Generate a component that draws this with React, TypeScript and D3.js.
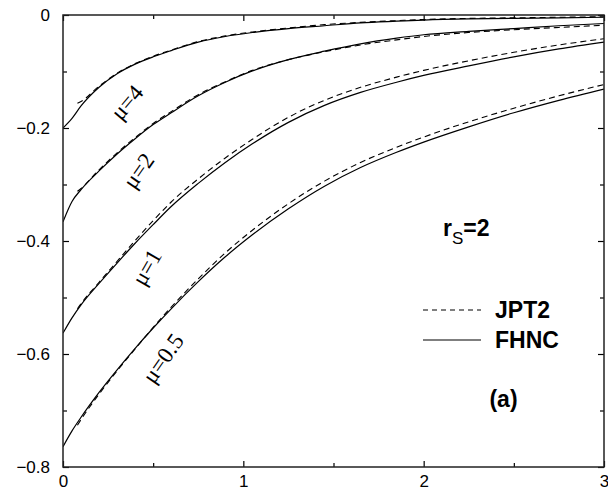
import React, { useRef, useEffect } from 'react';
import * as d3 from 'd3';

// x grid for the FHNC (solid) curves and the JPT2 (dashed) curves
const xSolid = [0, 0.05, 0.1, 0.2, 0.3, 0.4, 0.5, 0.6, 0.75, 0.9, 1.05, 1.25, 1.45, 1.65, 1.85, 2.0, 2.25, 2.5, 2.75, 3.0];
const xDashed = [0.08, 0.1, 0.2, 0.3, 0.4, 0.5, 0.6, 0.75, 0.9, 1.05, 1.25, 1.45, 1.65, 1.85, 2.0, 2.25, 2.5, 2.75, 3.0];

// FHNC
const fhncMu4 = [-0.2, -0.183, -0.161, -0.128, -0.104, -0.087, -0.074, -0.063, -0.048, -0.038, -0.031, -0.024, -0.019, -0.014, -0.011, -0.009, -0.007, -0.006, -0.005, -0.004];
const fhncMu2 = [-0.366, -0.33, -0.309, -0.276, -0.246, -0.219, -0.194, -0.173, -0.143, -0.119, -0.099, -0.079, -0.064, -0.051, -0.041, -0.035, -0.029, -0.024, -0.019, -0.015];
const fhncMu1 = [-0.563, -0.536, -0.513, -0.475, -0.439, -0.404, -0.371, -0.339, -0.298, -0.261, -0.228, -0.19, -0.16, -0.137, -0.119, -0.107, -0.09, -0.074, -0.06, -0.048];
const fhncMu05 = [-0.764, -0.736, -0.712, -0.668, -0.628, -0.59, -0.554, -0.52, -0.472, -0.428, -0.389, -0.343, -0.303, -0.27, -0.243, -0.225, -0.198, -0.173, -0.151, -0.131];

// JPT2
const jptMu4 = [-0.156, -0.153, -0.126, -0.103, -0.086, -0.073, -0.062, -0.047, -0.037, -0.03, -0.023, -0.017, -0.013, -0.01, -0.008, -0.006, -0.005, -0.004, -0.003];
const jptMu2 = [-0.312, -0.307, -0.274, -0.244, -0.217, -0.192, -0.171, -0.141, -0.118, -0.098, -0.079, -0.065, -0.053, -0.044, -0.038, -0.031, -0.026, -0.022, -0.018];
const jptMu1 = [-0.52, -0.511, -0.473, -0.436, -0.399, -0.364, -0.331, -0.29, -0.253, -0.22, -0.181, -0.151, -0.128, -0.11, -0.098, -0.081, -0.066, -0.053, -0.042];
const jptMu05 = [-0.726, -0.716, -0.671, -0.63, -0.591, -0.553, -0.517, -0.467, -0.421, -0.381, -0.334, -0.294, -0.261, -0.234, -0.216, -0.189, -0.165, -0.143, -0.123];

const curveLabels = ['μ=4', 'μ=2', 'μ=1', 'μ=0.5'];
const xTicks = [0, 1, 2, 3];
const yTicks = [-0.8, -0.6, -0.4, -0.2, 0];

const sans = '"Liberation Sans", Arial, Helvetica, sans-serif';
const serif = '"Liberation Serif", "Times New Roman", serif';

export default function App() {
  const svgRef = useRef<SVGSVGElement>(null);
  const W = 608;
  const H = 491;
  const margin = { top: 15, right: 4, bottom: 24, left: 63 };

  useEffect(() => {
    const svg = d3.select(svgRef.current);
    svg.selectAll('*').remove();

    const x = d3.scaleLinear().domain([0, 3]).range([margin.left, W - margin.right]);
    const y = d3.scaleLinear().domain([-0.8, 0]).range([H - margin.bottom, margin.top]);

    svg.append('clipPath').attr('id', 'plot')
      .append('rect')
      .attr('x', x(0)).attr('y', y(0))
      .attr('width', x(3) - x(0)).attr('height', y(-0.8) - y(0));

    const line = d3.line<[number, number]>()
      .x(d => x(d[0]))
      .y(d => y(d[1]))
      .curve(d3.curveMonotoneX);

    const g = svg.append('g').attr('clip-path', 'url(#plot)');
    [fhncMu4, fhncMu2, fhncMu1, fhncMu05].forEach(vals => {
      g.append('path')
        .attr('d', line(vals.map((v, i) => [xSolid[i], v])))
        .attr('fill', 'none').attr('stroke', '#000').attr('stroke-width', 1.2);
    });
    [jptMu4, jptMu2, jptMu1, jptMu05].forEach(vals => {
      g.append('path')
        .attr('d', line(vals.map((v, i) => [xDashed[i], v])))
        .attr('fill', 'none').attr('stroke', '#000').attr('stroke-width', 1.1)
        .attr('stroke-dasharray', '6,4');
    });

    // axes, ticks pointing inward on all four sides
    const styleAxis = (sel: any) => {
      sel.select('.domain').remove();
      sel.selectAll('line').attr('stroke', '#000').attr('stroke-width', 1.2);
      sel.selectAll('text').attr('font-family', sans).attr('font-size', 17).attr('fill', '#000');
    };
    const minorX = [0.5, 1.5, 2.5];
    const minorY = [-0.7, -0.5, -0.3, -0.1];

    svg.append('g').attr('transform', `translate(0,${y(-0.8)})`)
      .call(d3.axisBottom(x).tickValues(xTicks).tickSize(-6).tickPadding(8).tickFormat(d3.format('d')))
      .call(styleAxis);
    svg.append('g').attr('transform', `translate(0,${y(-0.8)})`)
      .call(d3.axisBottom(x).tickValues(minorX).tickSize(-4).tickFormat(() => ''))
      .call(styleAxis);
    svg.append('g').attr('transform', `translate(0,${y(0)})`)
      .call(d3.axisTop(x).tickValues(xTicks).tickSize(-6).tickFormat(() => ''))
      .call(styleAxis);
    svg.append('g').attr('transform', `translate(0,${y(0)})`)
      .call(d3.axisTop(x).tickValues(minorX).tickSize(-4).tickFormat(() => ''))
      .call(styleAxis);

    const fmtY = (d: any) => (d === 0 ? '0' : d3.format('.1f')(d).replace('-', '−'));
    svg.append('g').attr('transform', `translate(${x(0)},0)`)
      .call(d3.axisLeft(y).tickValues(yTicks).tickSize(-6).tickPadding(13).tickFormat(fmtY))
      .call(styleAxis);
    svg.append('g').attr('transform', `translate(${x(0)},0)`)
      .call(d3.axisLeft(y).tickValues(minorY).tickSize(-4).tickFormat(() => ''))
      .call(styleAxis);
    svg.append('g').attr('transform', `translate(${x(3)},0)`)
      .call(d3.axisRight(y).tickValues(yTicks).tickSize(-6).tickFormat(() => ''))
      .call(styleAxis);
    svg.append('g').attr('transform', `translate(${x(3)},0)`)
      .call(d3.axisRight(y).tickValues(minorY).tickSize(-4).tickFormat(() => ''))
      .call(styleAxis);

    svg.append('rect')
      .attr('x', x(0)).attr('y', y(0))
      .attr('width', x(3) - x(0)).attr('height', y(-0.8) - y(0))
      .attr('fill', 'none').attr('stroke', '#222').attr('stroke-width', 1.5);

    // curve labels along the curves
    const labelPos: [number, number, number][] = [
      [0.355, -0.155, -50],
      [0.42, -0.276, -55],
      [0.465, -0.447, -60],
      [0.555, -0.608, -55],
    ];
    curveLabels.forEach((t, i) => {
      const [lx, ly, a] = labelPos[i];
      svg.append('text')
        .attr('transform', `translate(${x(lx)},${y(ly)}) rotate(${a})`)
        .attr('text-anchor', 'middle').attr('dominant-baseline', 'central')
        .attr('font-family', serif).attr('font-size', 23)
        .text(t);
    });

    // r_s = 2
    const rs = svg.append('text')
      .attr('x', 443).attr('y', 236)
      .attr('font-family', sans).attr('font-size', 23).attr('font-weight', 'bold');
    rs.append('tspan').text('r');
    rs.append('tspan').attr('dy', 8).attr('font-size', 17).attr('font-weight', 'normal').text('S');
    rs.append('tspan').attr('dy', -8).text('=2');

    // legend
    const leg = [
      { name: 'JPT2', dash: '5,4', y: 310 },
      { name: 'FHNC', dash: null, y: 340 },
    ];
    leg.forEach(l => {
      svg.append('line')
        .attr('x1', 423).attr('x2', 481).attr('y1', l.y).attr('y2', l.y)
        .attr('stroke', '#000').attr('stroke-width', 1.1)
        .attr('stroke-dasharray', l.dash);
      svg.append('text')
        .attr('x', 495).attr('y', l.y + 8)
        .attr('font-family', sans).attr('font-size', 23).attr('font-weight', 'bold')
        .text(l.name);
    });

    svg.append('text')
      .attr('x', 503.5).attr('y', 407).attr('text-anchor', 'middle')
      .attr('font-family', sans).attr('font-size', 23).attr('font-weight', 'bold')
      .text('(a)');
  }, []);

  return (
    <svg ref={svgRef} width={W} height={H}
      style={{ position: 'absolute', left: 0, top: 0, background: '#fff' }} />
  );
}
